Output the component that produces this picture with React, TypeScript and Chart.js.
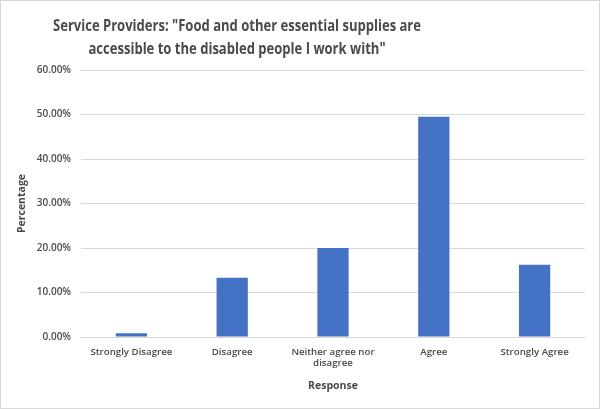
import React, { useEffect, useRef } from "react";
import { Chart, registerables } from "chart.js";

Chart.register(...registerables);

const categories: (string | string[])[] = [
  "Strongly Disagree",
  "Disagree",
  ["Neither agree nor", "disagree"],
  "Agree",
  "Strongly Agree",
];
const percentages: number[] = [0.83, 13.33, 20.0, 49.5, 16.25];
const titleLines: string[] = [
  'Service Providers: "Food and other essential supplies are',
  'accessible to the disabled people I work with"',
];
const yAxisTitle = "Percentage";
const xAxisTitle = "Response";

const FONT = "'Open Sans', Lato, sans-serif";
const TEXT = "#4a4a4a";

const framePlugin = {
  id: "frame",
  beforeDraw(chart: any) {
    const { ctx, width, height } = chart;
    ctx.save();
    ctx.fillStyle = "#ffffff";
    ctx.fillRect(0, 0, width, height);
    ctx.strokeStyle = "#d9d9d9";
    ctx.lineWidth = 1;
    ctx.strokeRect(0.5, 0.5, width - 1, height - 1);
    ctx.restore();
  },
  afterDraw(chart: any) {
    const { ctx } = chart;
    ctx.save();
    ctx.fillStyle = "#4a4a4a";
    ctx.font = `bold 15.5px ${FONT}`;
    const w = ctx.measureText(titleLines[0]).width;
    const sx = 368 / w;
    ctx.translate(237, 0);
    ctx.scale(sx, 1);
    ctx.textAlign = "center";
    ctx.textBaseline = "middle";
    ctx.fillText(titleLines[0], 0, 27);
    ctx.fillText(titleLines[1], 0, 50);
    ctx.restore();
  },
};

export default function App() {
  const ref = useRef<HTMLCanvasElement | null>(null);
  useEffect(() => {
    if (!ref.current) return;
    const chart = new Chart(ref.current, {
      type: "bar",
      data: {
        labels: categories,
        datasets: [
          {
            data: percentages,
            backgroundColor: "#4472C4",
            barPercentage: 0.31,
            categoryPercentage: 1,
          },
        ],
      },
      plugins: [framePlugin],
      options: {
        animation: false,
        responsive: false,
        maintainAspectRatio: false,
        layout: { padding: { left: 12, top: 70, right: 15, bottom: 13 } },
        plugins: {
          legend: { display: false },
          tooltip: { enabled: false },
          title: { display: false },
        },
        scales: {
          y: {
            min: 0,
            max: 60,
            ticks: {
              stepSize: 10,
              padding: 10,
              color: TEXT,
              font: { family: FONT, size: 10, weight: 600 },
              callback: (v: any) => Number(v).toFixed(2) + "%",
            },
            grid: { color: "#d9d9d9", drawTicks: false },
            border: { display: false },
            title: {
              display: true,
              text: yAxisTitle,
              color: TEXT,
              font: { family: FONT, size: 10.5, weight: "bold" },
              padding: { top: 4, bottom: 4 },
            },
            afterFit: (s: any) => {
              s.width = 69;
            },
          },
          x: {
            ticks: {
              padding: 9,
              color: TEXT,
              font: { family: FONT, size: 9.7, weight: 600 },
              maxRotation: 0,
              autoSkip: false,
            },
            grid: { display: false, drawTicks: false },
            border: { display: true, color: "#d9d9d9" },
            title: {
              display: true,
              text: xAxisTitle,
              color: TEXT,
              font: { family: FONT, size: 10.5, weight: "bold" },
              padding: { top: 4, bottom: 4 },
            },
            afterFit: (s: any) => {
              s.height = 59;
            },
          },
        },
      },
    });
    return () => chart.destroy();
  }, []);
  return (
    <div style={{ position: "fixed", left: 0, top: 0, width: 600, height: 409 }}>
      <canvas ref={ref} width={600} height={409} style={{ display: "block" }} />
    </div>
  );
}
